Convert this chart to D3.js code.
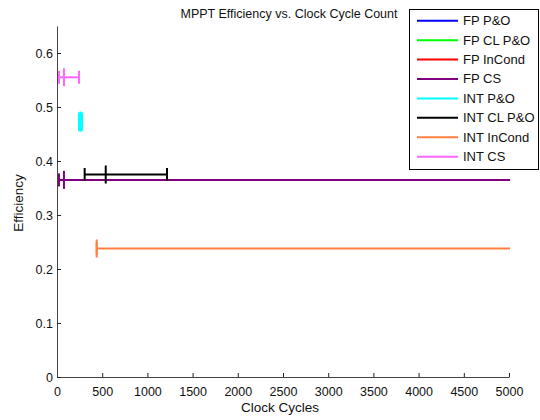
<!DOCTYPE html>
<html>
<head>
<meta charset="utf-8">
<script src="https://cdn.jsdelivr.net/npm/d3@7"></script>
<style>
  body { margin: 0; background: #fff; }
  svg { display: block; font-family: "Liberation Sans", Arial, Helvetica, sans-serif; }
</style>
</head>
<body>
<div id="chart"></div>
<script>
// Series shown in the legend, in drawing order
const seriesNames  = ["FP P&O", "FP CL P&O", "FP InCond", "FP CS", "INT P&O", "INT CL P&O", "INT InCond", "INT CS"];
const seriesColors = ["#0000ff", "#00ff00", "#ff0000", "#800080", "#00ffff", "#000000", "#ff8040", "#ff66ff"];

// Efficiency (y) and clock-cycle range (x) for each series; null = nothing visible
const effValues   = [null, null, null, 0.365, 0.473, 0.375, 0.238, 0.555];
const cycleMean   = [null, null, null, 77,    260,   539,   439,   77];
const cycleLow    = [null, null, null, 22,    260,   306,   439,   22];
const cycleHigh   = [null, null, null, 5600,  260,   1217,  5600,  243];
// Vertical spread of efficiency (only INT P&O shows one)
const effLow      = [null, null, null, null,  0.459, null,  null,  null];
const effHigh     = [null, null, null, null,  0.487, null,  null,  null];

const xTicks = [0, 500, 1000, 1500, 2000, 2500, 3000, 3500, 4000, 4500, 5000];
const yTicks = [0, 0.1, 0.2, 0.3, 0.4, 0.5, 0.6];

const W = 540, H = 420;
const margin = { left: 57, right: 31, top: 26, bottom: 43 };
const iw = W - margin.left - margin.right;
const ih = H - margin.top - margin.bottom;

const svg = d3.select("#chart").append("svg").attr("width", W).attr("height", H);

const x = d3.scaleLinear().domain([0, 5000]).range([margin.left, margin.left + iw]);
const y = d3.scaleLinear().domain([0, 0.65]).range([margin.top + ih, margin.top]);

svg.append("defs").append("clipPath").attr("id", "plotClip")
  .append("rect").attr("x", margin.left).attr("y", margin.top).attr("width", iw + 1).attr("height", ih);

// Axes with inward ticks
const xAxis = svg.append("g").attr("transform", `translate(0,${margin.top + ih})`)
  .call(d3.axisBottom(x).tickValues(xTicks).tickFormat(d3.format("d")).tickSizeInner(-4).tickSizeOuter(0).tickPadding(10));
const yAxis = svg.append("g").attr("transform", `translate(${margin.left},0)`)
  .call(d3.axisLeft(y).tickValues(yTicks).tickFormat(d => d === 0 ? "0" : d3.format(".1f")(d)).tickSizeInner(-4).tickSizeOuter(0).tickPadding(4));
[xAxis, yAxis].forEach(g => {
  g.select(".domain").attr("stroke", "#444").attr("stroke-width", 1);
  g.selectAll(".tick line").attr("stroke", "#222");
  g.selectAll(".tick text").attr("fill", "#111").style("font-size", "12.5px")
    .style("font-family", "'Liberation Sans', Arial, sans-serif");
});

// Data marks
const plot = svg.append("g").attr("clip-path", "url(#plotClip)");
const idx = d3.range(seriesNames.length).filter(i => effValues[i] !== null);

idx.forEach(i => {
  const g = plot.append("g").attr("stroke", seriesColors[i]).attr("stroke-width", 2).attr("fill", "none");
  const yy = y(effValues[i]);
  if (effLow[i] !== null) {
    g.append("line")
      .attr("x1", x(cycleMean[i])).attr("x2", x(cycleMean[i]))
      .attr("y1", y(effLow[i])).attr("y2", y(effHigh[i]))
      .attr("stroke-width", 5).attr("stroke-linecap", "round");
    return;
  }
  g.append("line").attr("x1", x(cycleLow[i])).attr("x2", x(cycleHigh[i])).attr("y1", yy).attr("y2", yy);
  // end caps
  [cycleLow[i], cycleHigh[i]].forEach(v => {
    g.append("line").attr("x1", x(v)).attr("x2", x(v)).attr("y1", yy - 6.5).attr("y2", yy + 6.5);
  });
  // mean marker
  g.append("line").attr("x1", x(cycleMean[i])).attr("x2", x(cycleMean[i])).attr("y1", yy - 9).attr("y2", yy + 9);
});

// Title and axis labels
svg.append("text").attr("x", margin.left + iw / 2 + 6).attr("y", 17.5).attr("text-anchor", "middle")
  .style("font-size", "12.5px").attr("fill", "#111").text("MPPT Efficiency vs. Clock Cycle Count");
svg.append("text").attr("x", margin.left + iw / 2 - 3).attr("y", 412).attr("text-anchor", "middle")
  .style("font-size", "13.5px").attr("fill", "#111").text("Clock Cycles");
svg.append("text").attr("transform", `translate(23,203) rotate(-90)`).attr("text-anchor", "middle")
  .style("font-size", "13.5px").attr("fill", "#111").text("Efficiency");

// Legend
const lg = svg.append("g");
lg.append("rect").attr("x", 409.5).attr("y", 9.5).attr("width", 129).attr("height", 160)
  .attr("fill", "#fff").attr("stroke", "#000").attr("stroke-width", 1);
seriesNames.forEach((name, i) => {
  const ly = 20.7 + i * 19.43;
  lg.append("line").attr("x1", 417).attr("x2", 458).attr("y1", ly).attr("y2", ly)
    .attr("stroke", seriesColors[i]).attr("stroke-width", 2);
  lg.append("text").attr("x", 463).attr("y", ly + 4.5).style("font-size", "13px").attr("fill", "#111").text(name);
});
</script>
</body>
</html>
